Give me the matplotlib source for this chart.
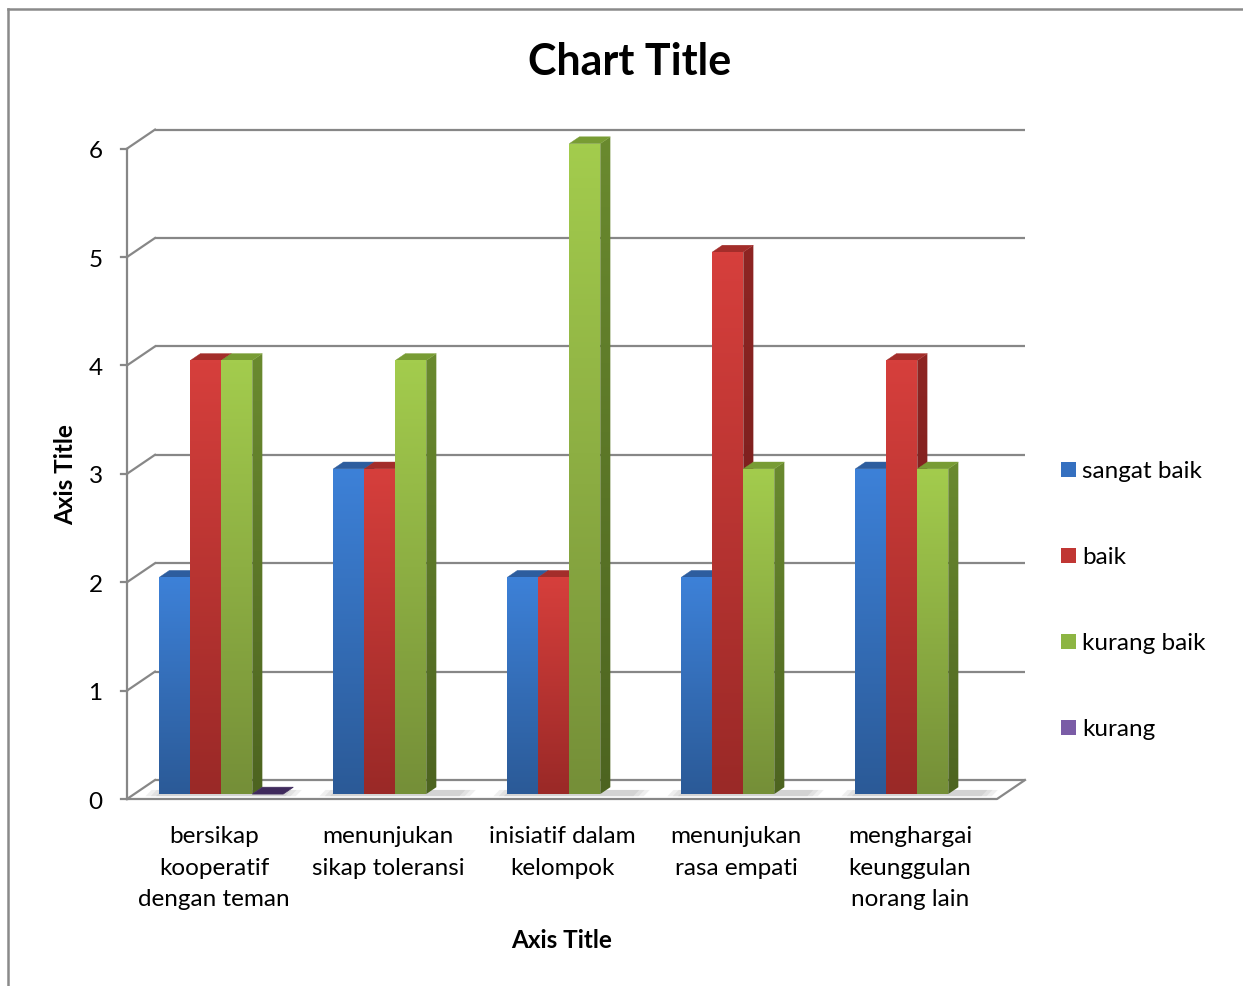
import numpy as np
import matplotlib.pyplot as plt
from matplotlib.patches import Polygon, Rectangle
from matplotlib.colors import LinearSegmentedColormap
from matplotlib.lines import Line2D

plt.rcParams['font.family'] = ['Lato', 'DejaVu Sans']

# data
categories = ['bersikap\nkooperatif\ndengan teman', 'menunjukan\nsikap toleransi',
              'inisiatif dalam\nkelompok', 'menunjukan\nrasa empati',
              'menghargai\nkeunggulan\nnorang lain']
series_names = ['sangat baik', 'baik', 'kurang baik', 'kurang']
sangat_baik = [2, 3, 2, 2, 3]
baik = [4, 3, 2, 5, 4]
kurang_baik = [4, 4, 6, 3, 3]
kurang = [0, np.nan, np.nan, np.nan, np.nan]
y_ticks = [0, 1, 2, 3, 4, 5, 6]

# colours: (front top, front bottom, side top, side bottom, top face, legend)
styles = [
    ('#3d81d8', '#2b5a97', '#2c5b9a', '#1f4274', '#2d5d9e', '#3570c0'),
    ('#d63f3c', '#9a2927', '#8e2523', '#6a1a18', '#a32d2a', '#c03633'),
    ('#a3cc4d', '#758f38', '#6a8a2f', '#4d6420', '#789c34', '#8db543'),
    ('#8d68b8', '#5f4585', '#4a3270', '#3a2660', '#3f2a5c', '#7a5ca6'),
]
series = [sangat_baik, baik, kurang_baik, kurang]

W, H = 1243, 987
SX, SY = 174.0, 108.4          # pixels per x unit / per y unit
X0, Y0 = 127.0, 800.0          # pixel of front-plane origin
DX, DY = 28 / SX, 19 / SY      # depth of the 3d box
BAR_F = 0.26                   # bar plane depth fraction
BAR_D = 0.36                   # bar depth fraction
BAR_W = 0.178

fig = plt.figure(figsize=(W / 100, H / 100), dpi=100)
ax = fig.add_axes([0, 0, 1, 1])
ax.set_axis_off()

grid_c = '#878787'
lw = 1.6

# back wall gridlines, left wall diagonals
for v in y_ticks:
    ax.plot([DX, 5 + DX], [v + DY, v + DY], color=grid_c, lw=lw, zorder=1, solid_capstyle='butt')
    ax.plot([0, DX], [v, v + DY], color=grid_c, lw=lw, zorder=1)
    ax.plot([-6 / SX, 0], [v, v], color=grid_c, lw=lw, zorder=1)
    ax.text(-0.14, v - 0.02, str(v), ha='right', va='center', fontsize=17.5, color='#000000')
ax.plot([0, 0], [0, y_ticks[-1]], color=grid_c, lw=lw, zorder=1)
# floor
ax.plot([0, 5, 5 + DX], [0, 0, DY], color=grid_c, lw=lw, zorder=1)


def grad_face(verts, c_top, c_bot, z):
    poly = Polygon(verts, closed=True, facecolor='none', edgecolor='none', zorder=z)
    ax.add_patch(poly)
    xs = [p[0] for p in verts]
    ys = [p[1] for p in verts]
    cmap = LinearSegmentedColormap.from_list('g', [c_bot, c_top])
    grad = np.linspace(0, 1, 128).reshape(-1, 1)
    im = ax.imshow(grad, extent=(min(xs), max(xs), min(ys), max(ys)), origin='lower',
                   cmap=cmap, aspect='auto', interpolation='bilinear', zorder=z)
    im.set_clip_path(poly)


bx, by = BAR_F * DX, BAR_F * DY
ddx, ddy = BAR_D * DX, BAR_D * DY

# floor shadows
for i in range(len(categories)):
    left = i + 0.5 - 2 * BAR_W + bx - 0.08
    right = i + 0.5 - 2 * BAR_W + bx + 3 * BAR_W + 0.25
    for k, a in enumerate([0.12, 0.12, 0.14]):
        sh = 0.03 * k
        ax.add_patch(Polygon([(left + sh, by - 0.02), (right - sh, by - 0.02),
                              (right - sh + ddx * 0.6, by + ddy * 0.6),
                              (left + sh + ddx * 0.6, by + ddy * 0.6)],
                             closed=True, facecolor='#808080', edgecolor='none',
                             alpha=a, zorder=2))

z = 10
for i in range(len(categories)):
    for j, vals in enumerate(series):
        v = vals[i]
        if np.isnan(v):
            continue
        ft, fb, st, sb, tc, _ = styles[j]
        x = i + 0.5 + (j - 2) * BAR_W + bx
        y0 = by
        y1 = v + by
        if v > 0:
            # side face
            grad_face([(x + BAR_W, y0), (x + BAR_W + ddx, y0 + ddy),
                       (x + BAR_W + ddx, y1 + ddy), (x + BAR_W, y1)], st, sb, z)
            # top face
            ax.add_patch(Polygon([(x, y1), (x + BAR_W, y1), (x + BAR_W + ddx, y1 + ddy),
                                  (x + ddx, y1 + ddy)], closed=True, facecolor=tc,
                                 edgecolor=tc, lw=0.3, zorder=z + 1))
            # front face
            grad_face([(x, y0), (x + BAR_W, y0), (x + BAR_W, y1), (x, y1)], ft, fb, z + 2)
        else:
            ax.add_patch(Polygon([(x, y1), (x + BAR_W, y1), (x + BAR_W + ddx, y1 + ddy),
                                  (x + ddx, y1 + ddy)], closed=True, facecolor=tc,
                                 edgecolor=tc, lw=0.5, zorder=z + 1))
        z += 3

# category labels
for i, lab in enumerate(categories):
    ax.text(i + 0.5, -0.24, lab, ha='center', va='top', fontsize=17.5,
            linespacing=1.63, color='#000000')

# axis titles
ax.text(2.5, -1.30, 'Axis Title', ha='center', va='center', fontsize=17.5,
        fontweight='bold')
ax.text(-0.351, 3.0, 'Axis Title', ha='center', va='center', fontsize=17.5,
        fontweight='bold', rotation=90)

# legend
leg_x = (1061 - X0) / SX
leg_y0 = (Y0 - 470) / SY
leg_step = 86 / SY
for k, name in enumerate(series_names):
    yy = leg_y0 - k * leg_step
    ax.add_patch(Rectangle((leg_x, yy - 7.5 / SY), 15 / SX, 15 / SY,
                           facecolor=styles[k][5], edgecolor='none', zorder=5))
    ax.text(leg_x + 21 / SX, yy - 0.01, name, ha='left', va='center', fontsize=17.5)

ax.set_xlim(-X0 / SX, (W - X0) / SX)
ax.set_ylim(-(H - Y0) / SY, Y0 / SY)

# title
fig.text(630 / W, 1 - 62 / H, 'Chart Title', ha='center', va='center',
         fontsize=31, fontweight='bold')

# outer border
fig.add_artist(Line2D([8 / W, 8 / W], [0, 1 - 10 / H], color='#8a8a8a', lw=1.8,
                      transform=fig.transFigure))
fig.add_artist(Line2D([8 / W, 1], [1 - 10 / H, 1 - 10 / H], color='#8a8a8a', lw=1.8,
                      transform=fig.transFigure))

fig.savefig('out.png', dpi=100)
